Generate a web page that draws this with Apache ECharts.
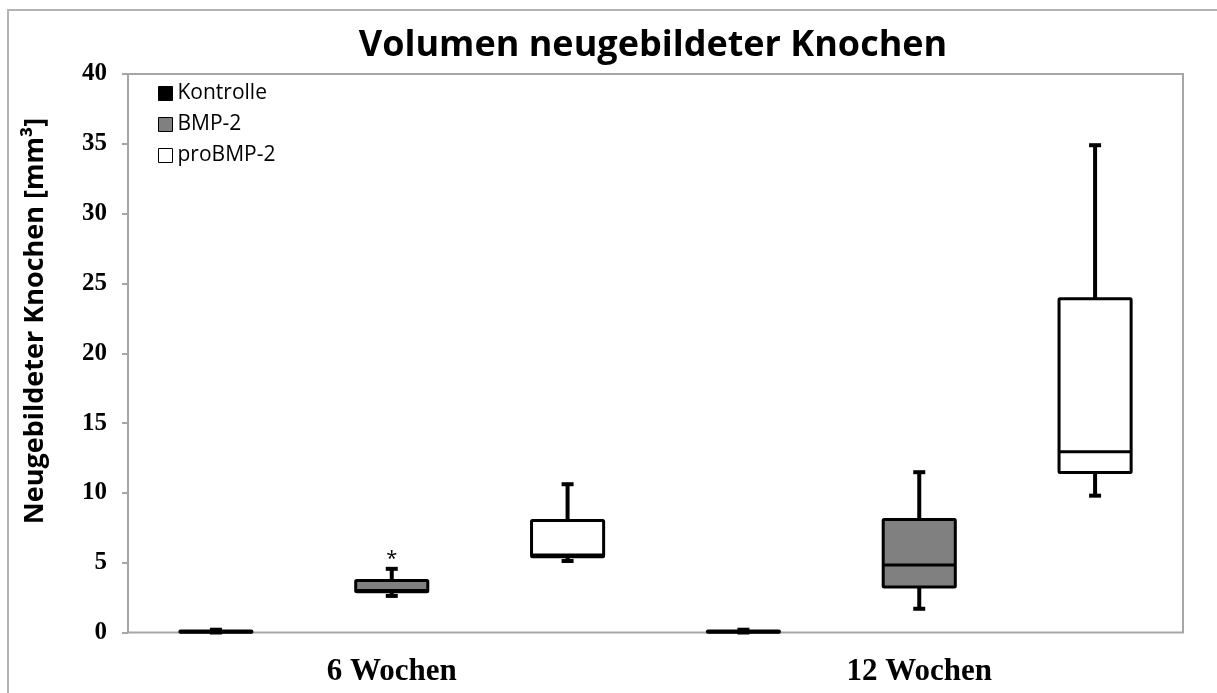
<!DOCTYPE html>
<html>
<head>
<meta charset="utf-8">
<script src="https://cdn.jsdelivr.net/npm/echarts@6/dist/echarts.min.js"></script>
<style>
  html, body { margin: 0; padding: 0; background: #fff; }
  #chart { width: 1217px; height: 693px; }
</style>
</head>
<body>
<div id="chart"></div>
<script>
// Group labels and the six box slots (three groups per time point)
const timepoints = ['6 Wochen', '12 Wochen'];
const groups = ['Kontrolle', 'BMP-2', 'proBMP-2'];
const groupColors = ['#000000', '#808080', '#ffffff'];

// Five-number summaries [min, Q1, median, Q3, max] per time point
const kontrolle = [
  [0, 0.02, 0.05, 0.1, 0.2],
  [0, 0.02, 0.05, 0.1, 0.2]
];
const bmp2 = [
  [2.62, 2.92, 3.0, 3.72, 4.56],
  [1.7, 3.25, 4.83, 8.09, 11.48]
];
const proBmp2 = [
  [5.12, 5.42, 5.55, 8.02, 10.62],
  [9.8, 11.46, 12.95, 23.9, 34.9]
];
// Significance markers drawn above a box
const bmp2Marks = ['*', ''];

const yTicks = { min: 0, max: 40, interval: 5 };
const yTitle = 'Neugebildeter Knochen [mm³]';

const allStats = [kontrolle, bmp2, proBmp2];
const slotNames = [];
timepoints.forEach(t => groups.forEach(g => slotNames.push(t + ' ' + g)));

function seriesData(stats, groupIdx) {
  return stats.map((s, t) => [t * groups.length + groupIdx].concat(s));
}

function makeRenderer(fill, marks) {
  return function (params, api) {
    const slot = api.value(0);
    const cx = api.coord([slot, 0])[0];
    const y = i => api.coord([slot, api.value(i)])[1];
    const yMin = y(1), yQ1 = y(2), yMed = y(3), yQ3 = y(4), yMax = y(5);
    const bw = api.size([1, 0])[0] * 0.41;
    const capW = 12, capH = 4;
    const children = [
      { type: 'line', shape: { x1: cx, y1: yMax, x2: cx, y2: yMin },
        style: { stroke: '#000', lineWidth: 4 } },
      { type: 'rect', shape: { x: cx - capW / 2, y: yMax - capH / 2, width: capW, height: capH },
        style: { fill: '#000' } },
      { type: 'rect', shape: { x: cx - capW / 2, y: yMin - capH / 2, width: capW, height: capH },
        style: { fill: '#000' } },
      { type: 'rect', shape: { x: cx - bw / 2, y: yQ3, width: bw, height: yQ1 - yQ3, r: 1 },
        style: { fill: fill, stroke: '#000', lineWidth: 3 } },
      { type: 'line', shape: { x1: cx - bw / 2, y1: yMed, x2: cx + bw / 2, y2: yMed },
        style: { stroke: '#000', lineWidth: 3 } }
    ];
    const mark = marks ? marks[params.dataIndex] : '';
    if (mark) {
      children.push({ type: 'text', x: cx, y: yMax - 10,
        style: { text: mark, fill: '#000', font: '20px "Open Sans", sans-serif',
                 align: 'center', verticalAlign: 'middle' } });
    }
    return { type: 'group', children: children };
  };
}

const chart = echarts.init(document.getElementById('chart'), null, { renderer: 'canvas' });

const option = {
  animation: false,
  backgroundColor: '#fff',
  title: {
    text: 'Volumen neugebildeter Knochen',
    left: 648, top: 23, textAlign: 'center',
    textStyle: { fontFamily: '"Open Sans", sans-serif', fontWeight: 'bold', fontSize: 36, color: '#000' }
  },
  graphic: [{
    type: 'rect', silent: true, z: -1,
    shape: { x: 8, y: 10, width: 1300, height: 800 },
    style: { fill: 'none', stroke: '#b4b4b4', lineWidth: 2 }
  }, {
    type: 'text', silent: true,
    x: 35, y: 321, rotation: Math.PI / 2,
    style: { text: yTitle, fill: '#000', font: 'bold 27px "Open Sans", sans-serif',
             align: 'center', verticalAlign: 'middle' }
  }],
  legend: {
    orient: 'vertical', left: 153, top: 78,
    itemWidth: 14, itemHeight: 14, itemGap: 10, icon: 'rect',
    textStyle: { fontFamily: '"Open Sans", sans-serif', fontSize: 21, lineHeight: 21, color: '#000' },
    data: groups.map((g, i) => ({
      name: g,
      itemStyle: { color: groupColors[i], borderColor: '#000', borderWidth: 1 }
    }))
  },
  grid: {
    left: 128, right: 34, top: 74, bottom: 60.5,
    show: true, borderColor: '#a6a6a6', borderWidth: 2, backgroundColor: 'transparent'
  },
  xAxis: [{
    type: 'category', data: slotNames, show: false, boundaryGap: true
  }, {
    type: 'category', data: timepoints, position: 'bottom', boundaryGap: true,
    axisLine: { show: false }, axisTick: { show: false }, splitLine: { show: false },
    axisLabel: { margin: 24, fontFamily: '"Liberation Serif", serif', fontWeight: 'bold', fontSize: 31, color: '#000' }
  }],
  yAxis: {
    type: 'value', min: yTicks.min, max: yTicks.max, interval: yTicks.interval,
    axisLine: { show: true, lineStyle: { color: '#a6a6a6', width: 2 } },
    axisTick: { show: true, length: 6, lineStyle: { color: '#a6a6a6', width: 2 } },
    splitLine: { show: false },
    axisLabel: { margin: 21, fontFamily: '"Liberation Serif", serif', fontWeight: 'bold', fontSize: 25, color: '#000' }
  },
  series: groups.map((g, i) => ({
    name: g,
    type: 'custom',
    xAxisIndex: 0,
    itemStyle: { color: groupColors[i], borderColor: '#000' },
    encode: { x: 0, y: [1, 2, 3, 4, 5] },
    renderItem: makeRenderer(groupColors[i], i === 1 ? bmp2Marks : null),
    data: seriesData(allStats[i], i)
  }))
};

chart.setOption(option);
</script>
</body>
</html>
